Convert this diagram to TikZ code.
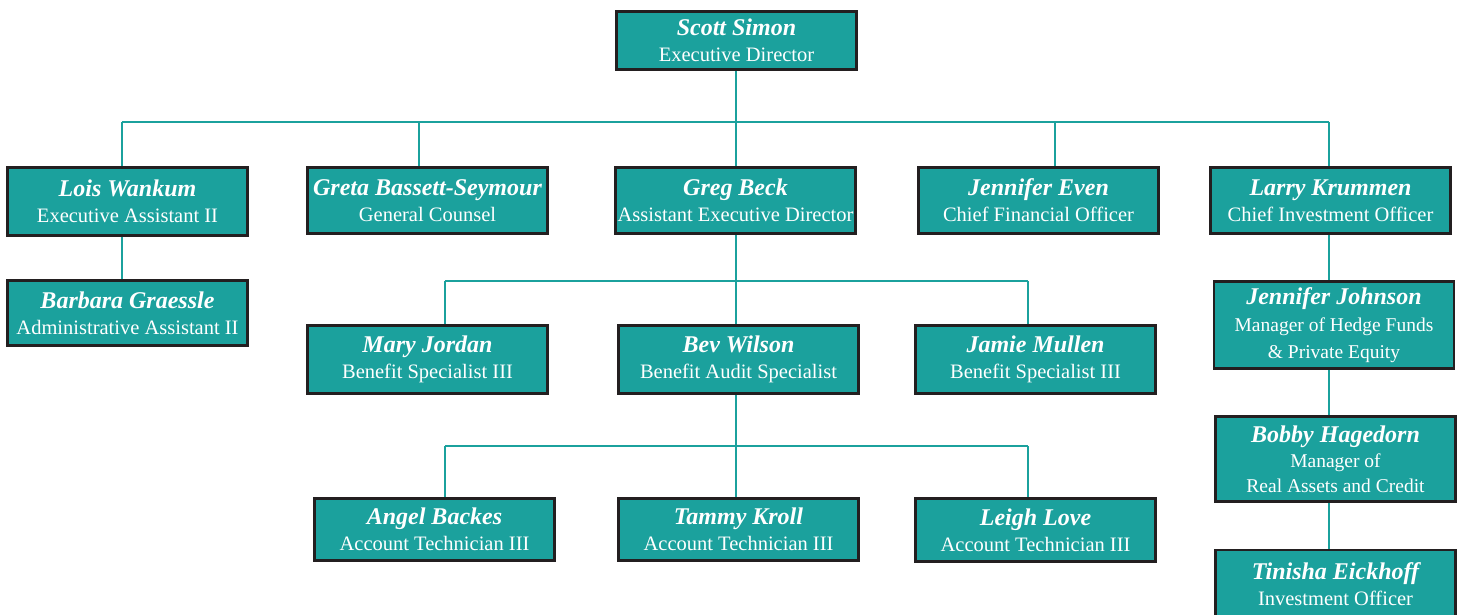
\documentclass[tikz,border=0pt]{standalone}
\usepackage{fontspec}
\setmainfont{Liberation Serif}
\definecolor{teal1}{RGB}{27,161,157}
\definecolor{edge1}{RGB}{35,31,32}
\newcommand\nm[1]{{\fontsize{24}{27}\selectfont\bfseries\itshape #1}}
\newcommand\tl{\fontsize{20.5}{26}\selectfont}
\tikzset{
  box/.style={draw=edge1, line width=2.6pt, fill=teal1, text=white, align=center,
    minimum width=240pt, inner sep=1pt, font=\tl},
  link/.style={draw=teal1, line width=1.8pt}
}
\begin{document}
\begin{tikzpicture}[x=1pt,y=-1pt]
\useasboundingbox (0,0) rectangle (1463,615);
\clip (0,0) rectangle (1463,615);
% nodes
\node[box, minimum height=58pt] (ss) at (736.5,40.5) {\nm{Scott Simon}\\Executive Director};
\node[box, minimum height=68pt] (lw) at (127.5,201.5) {\nm{Lois Wankum}\\Executive Assistant II};
\node[box, minimum height=66pt] (gr) at (427.5,200.5) {\nm{Greta Bassett-Seymour}\\General Counsel};
\node[box, minimum height=66pt] (gk) at (735.5,200.5) {\nm{Greg Beck}\\Assistant Executive Director};
\node[box, minimum height=66pt] (je) at (1038.5,200.5) {\nm{Jennifer Even}\\Chief Financial Officer};
\node[box, minimum height=66pt] (lk) at (1330.5,200.5) {\nm{Larry Krummen}\\Chief Investment Officer};
\node[box, minimum height=65pt] (bg) at (127.5,313) {\nm{Barbara Graessle}\\Administrative Assistant II};
\node[box, minimum height=68pt] (mj) at (427.5,359.5) {\nm{Mary Jordan}\\Benefit Specialist III};
\node[box, minimum height=68pt] (bw) at (738.5,359.5) {\nm{Bev Wilson}\\Benefit Audit Specialist};
\node[box, minimum height=68pt] (jm) at (1035.5,359.5) {\nm{Jamie Mullen}\\Benefit Specialist III};
\node[box, minimum height=87pt, font=\fontsize{19.5}{27}\selectfont] (jj) at (1334,325) {\nm{Jennifer Johnson}\\Manager of Hedge Funds\\\& Private Equity};
\node[box, minimum height=85pt, font=\fontsize{19.5}{25}\selectfont] (bh) at (1335.5,459) {\nm{Bobby Hagedorn}\\Manager of\\Real Assets and Credit};
\node[box, minimum height=68pt, anchor=north] (te) at (1335.5,548.5) {\nm{Tinisha Eickhoff}\\Investment Officer};
\node[box, minimum height=62pt] (ab) at (434.5,529.5) {\nm{Angel Backes}\\Account Technician III};
\node[box, minimum height=62pt] (tk) at (738.5,529.5) {\nm{Tammy Kroll}\\Account Technician III};
\node[box, minimum height=63pt] (ll) at (1035.5,530) {\nm{Leigh Love}\\Account Technician III};
% bus coordinates
\coordinate (b1) at (736,122);
\coordinate (b1a) at (122,122);
\coordinate (b1b) at (419,122);
\coordinate (b1d) at (1055,122);
\coordinate (b1e) at (1329,122);
\coordinate (b2) at (736,281);
\coordinate (b2a) at (445,281);
\coordinate (b2c) at (1028,281);
\coordinate (b3) at (736,446);
\coordinate (b3a) at (445,446);
\coordinate (b3c) at (1028,446);
% connectors
\path[link] (ss.south -| b1) -- (b1);
\path[link] (b1a) -- (b1e);
\path[link] (b1a) -- (b1a |- lw.north);
\path[link] (b1b) -- (b1b |- gr.north);
\path[link] (b1) -- (b1 |- gk.north);
\path[link] (b1d) -- (b1d |- je.north);
\path[link] (b1e) -- (b1e |- lk.north);
\path[link] (lw.south -| b1a) -- (b1a |- bg.north);
\path[link] (gk.south -| b2) -- (b2);
\path[link] (b2a) -- (b2c);
\path[link] (b2a) -- (b2a |- mj.north);
\path[link] (b2) -- (b2 |- bw.north);
\path[link] (b2c) -- (b2c |- jm.north);
\path[link] (bw.south -| b3) -- (b3);
\path[link] (b3a) -- (b3c);
\path[link] (b3a) -- (b3a |- ab.north);
\path[link] (b3) -- (b3 |- tk.north);
\path[link] (b3c) -- (b3c |- ll.north);
\path[link] (lk.south -| b1e) -- (b1e |- jj.north);
\path[link] (jj.south -| b1e) -- (b1e |- bh.north);
\path[link] (bh.south -| b1e) -- (b1e |- te.north);
\end{tikzpicture}
\end{document}
